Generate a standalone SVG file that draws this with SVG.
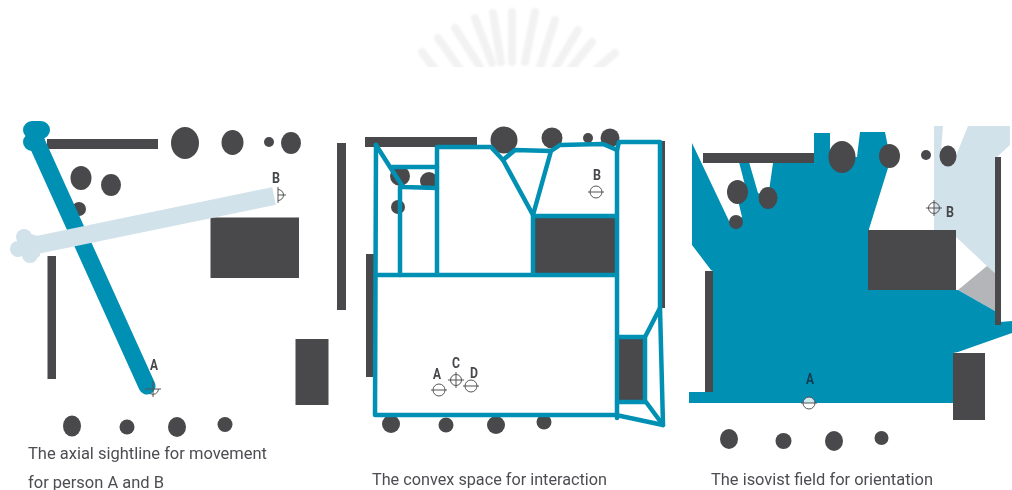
<svg xmlns="http://www.w3.org/2000/svg" xmlns:xlink="http://www.w3.org/1999/xlink" width="1012" height="490" viewBox="0 0 1012 490">
<style>
.d{fill:#48494b}
.b{fill:none;stroke:#0090b4;stroke-width:4.500;stroke-linejoin:round;stroke-linecap:round}
.cap{font:16px "Roboto","Liberation Sans",sans-serif;fill:#4c4e52}
.lab{font:bold 14px "Roboto","Liberation Sans",sans-serif;fill:#44464a}
.mk{fill:none;stroke:#555;stroke-width:1}
.ray{stroke:#f2f2f2;stroke-width:8;stroke-linecap:round;fill:none}
</style>
<defs>
<clipPath id="sun"><rect x="380" y="0" width="280" height="67"/></clipPath>
<filter id="soft" filterUnits="userSpaceOnUse" x="0" y="0" width="1012" height="490"><feGaussianBlur stdDeviation="0.45"/></filter>
<filter id="softer" filterUnits="userSpaceOnUse" x="380" y="0" width="280" height="90"><feGaussianBlur stdDeviation="1.2"/></filter>
<g id="m" class="mk"><circle r="5.500"/><path d="M-8 0H8M0 -8V8"/></g>
<g id="h" class="mk"><circle r="6"/><path d="M-8 0H8"/></g>
</defs>
<rect width="1012" height="490" fill="#fff"/>
<g clip-path="url(#sun)">
<g id="sunburst" class="ray" filter="url(#softer)">
<path d="M437 72L422 52M462 72L438 38M480 67L455 28M492 63L475 18M501 62L493 13M512 62L512 12M525 62L535 12M540 67L555 20M553 72L578 30M568 72L592 42M593 72L615 53"/>
</g>
</g>
<g filter="url(#soft)">
<g id="panel-axial">
<g id="walls-1">
<rect class="d" x="47" y="139" width="111" height="10"/>
<rect class="d" x="337" y="143" width="9" height="167"/>
<rect class="d" x="47.500" y="256" width="8.500" height="123"/>
<rect class="d" x="210.500" y="217.500" width="88.500" height="60.500"/>
<rect class="d" x="295.500" y="339" width="33" height="66"/>
</g>
<g id="columns-1" class="d">
<ellipse cx="185" cy="143" rx="14" ry="16"/><ellipse cx="232.500" cy="142.500" rx="11" ry="12.500"/><circle cx="269" cy="142" r="5"/><ellipse cx="291" cy="143" rx="10" ry="11"/>
<ellipse cx="81" cy="178" rx="10.500" ry="12"/><ellipse cx="111" cy="185" rx="10" ry="11"/><circle cx="79" cy="209" r="7"/>
<ellipse cx="72" cy="426" rx="9" ry="10.500"/><circle cx="127" cy="427" r="7.500"/><ellipse cx="177" cy="427" rx="9" ry="10"/><circle cx="225" cy="424.500" r="7.500"/>
</g>
<g id="sightlines">
<path d="M37 143L147 386" fill="none" stroke="#0090b4" stroke-width="17" stroke-linecap="round"/>
<path d="M32 130H41M32 142H36" fill="none" stroke="#0090b4" stroke-width="18" stroke-linecap="round"/>
<path d="M274 196L32 246" fill="none" stroke="#d2e2ea" stroke-width="18"/>
<g fill="#d2e2ea"><circle cx="24" cy="237" r="8"/><circle cx="18" cy="249" r="8"/><circle cx="30" cy="255" r="8"/><polygon points="24,232 38,236 40,256 30,262 14,250"/></g>
</g>
<g id="person-a-1"><path class="mk" d="M145 389H161M153 381V397M158.500 389A5.500 5.500 0 0 1 150 393.500"/><text class="lab" x="150" y="370" textLength="8" lengthAdjust="spacingAndGlyphs">A</text></g>
<g id="person-b-1"><path class="mk" d="M278 187V203M278 195H286M278 189.500A5.500 5.500 0 0 1 278 200.500"/><text class="lab" x="272" y="183" textLength="8" lengthAdjust="spacingAndGlyphs">B</text></g>
<text class="cap" x="28" y="459" textLength="239" lengthAdjust="spacingAndGlyphs">The axial sightline for movement</text>
<text class="cap" x="28" y="488" textLength="136" lengthAdjust="spacingAndGlyphs">for person A and B</text>
</g>
<g id="panel-convex">
<g id="walls-2">
<rect class="d" x="337" y="143" width="9" height="167"/>
<rect class="d" x="365" y="137" width="112" height="10"/>
<rect class="d" x="366" y="254" width="9" height="123"/>
<rect class="d" x="659" y="141" width="6" height="167"/>
<rect class="d" x="533" y="218" width="84" height="56"/>
<rect class="d" x="618" y="338" width="28" height="64"/>
</g>
<g id="columns-2" class="d">
<circle cx="504" cy="140" r="13.500"/><circle cx="552" cy="138" r="10.500"/><circle cx="588" cy="138" r="5"/><circle cx="610" cy="138" r="9.500"/>
<circle cx="400" cy="176" r="10"/><circle cx="429" cy="181" r="9"/><circle cx="398" cy="207" r="7"/>
<circle cx="391" cy="424" r="9"/><circle cx="446" cy="425" r="7.500"/><circle cx="496" cy="425" r="9"/><circle cx="544" cy="422" r="7.500"/>
</g>
<g id="convex-spaces" class="b">
<path d="M376 145L375 415H616L663 425L660 308V142H619L617 150V418"/>
<path d="M376 275H617M437 275V147H491L503 160L533 215V273M533 216H617"/>
<path d="M533 215L551 151M503 160L515 150L551 151L560 145L603 144L617 150"/>
<path d="M660 308L645 337H618M645 337V402M617 402H646L663 425"/>
<path d="M376 145L390 167L403 187L437 188M392 167H437M400 187V275"/>
</g>
<g id="person-a-2"><use xlink:href="#h" x="439" y="390"/><text class="lab" x="433" y="379" textLength="8" lengthAdjust="spacingAndGlyphs">A</text></g>
<g id="person-b-2"><use xlink:href="#h" x="596" y="192"/><text class="lab" x="593" y="180" textLength="8" lengthAdjust="spacingAndGlyphs">B</text></g>
<g id="person-c-2"><use xlink:href="#m" x="456" y="380"/><text class="lab" x="452" y="368" textLength="8" lengthAdjust="spacingAndGlyphs">C</text></g>
<g id="person-d-2"><use xlink:href="#h" x="471" y="386"/><text class="lab" x="470" y="378" textLength="8" lengthAdjust="spacingAndGlyphs">D</text></g>
<text class="cap" x="372" y="485" textLength="235" lengthAdjust="spacingAndGlyphs">The convex space for interaction</text>
</g>
<g id="panel-isovist">
<g id="fields">
<polygon fill="#d2e2ea" points="934,126 943,126 941,150 953,163 968,126 1010,126 1010,145 997,157 995,273 987,266 956,237 956,232 934,230"/>
<polygon fill="#b3b5b8" points="987,266 995,273 995,311 958,290"/>
<polygon fill="#0090b4" points="692,143 729,221 736,222 742,217 738,200 747,193 739,162 749,162 758,193 768,198 773,163 814,163 814,133 830,133 830,157 857,157 860,132 885,132 890,157 888,168 869,229 868,290 958,290 995,311 1000,322 1012,321 1012,333 958,352 953,353 953,403 689,403 689,392 713,392 713,271 711,270 692,245"/>
</g>
<g id="walls-3">
<rect class="d" x="703" y="153" width="111" height="10"/>
<rect class="d" x="705" y="271" width="8" height="121"/>
<rect class="d" x="995" y="157" width="6" height="168"/>
<rect class="d" x="868" y="230" width="88" height="60"/>
<rect class="d" x="953" y="353" width="32" height="67"/>
</g>
<g id="columns-3" class="d">
<ellipse cx="842" cy="157" rx="13.500" ry="16"/><ellipse cx="889.500" cy="156" rx="10.500" ry="12"/><circle cx="926" cy="155" r="5"/><ellipse cx="948" cy="156" rx="8.500" ry="10.500"/>
<ellipse cx="737.500" cy="192" rx="10.500" ry="12"/><ellipse cx="768" cy="198" rx="9.500" ry="11"/><circle cx="736" cy="222" r="7"/>
<ellipse cx="729" cy="439" rx="9" ry="10"/><circle cx="783.500" cy="441" r="8"/><ellipse cx="834" cy="441" rx="9" ry="10"/><circle cx="881.500" cy="438" r="7"/>
</g>
<g id="person-a-3"><circle cx="809" cy="403" r="6" fill="#fff" opacity=".8"/><use xlink:href="#h" x="809" y="403"/><text class="lab" x="806" y="384" textLength="8" lengthAdjust="spacingAndGlyphs" style="fill:#123c50">A</text></g>
<g id="person-b-3"><use xlink:href="#m" x="934" y="208"/><text class="lab" x="946" y="217" textLength="8" lengthAdjust="spacingAndGlyphs">B</text></g>
<text class="cap" x="711" y="485" textLength="222" lengthAdjust="spacingAndGlyphs">The isovist field for orientation</text>
</g>
</g>
</svg>
